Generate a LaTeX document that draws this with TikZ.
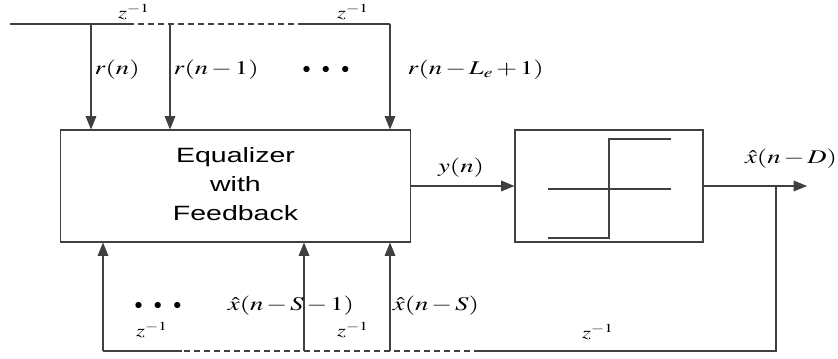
\documentclass[tikz,border=0pt]{standalone}
\usepackage{mathptmx}
\usepackage[no-math]{fontspec}
\setmainfont{Liberation Sans}
\usepackage{tikz}
\usetikzlibrary{arrows.meta}

% the drawing is wider than it is tall
\newcommand{\hstretch}[1]{\scalebox{1.38}[1]{#1}}
\newcommand{\tdot}{{\fontsize{12}{12}\selectfont$\bullet$}}
\newcommand{\tdots}{\tdot\hspace{8.5pt}\tdot\hspace{8.5pt}\tdot}
\medmuskip=2mu

\begin{document}
\begin{tikzpicture}[x=0.75pt, y=0.75pt,
        line/.style={draw=black!75, line width=0.8pt},
        arrow/.style={line, -{Triangle[length=10pt, width=8pt]}},
        delayline/.style={line, dash pattern=on 4.5pt off 3pt},
        box/.style={rectangle, draw=black!75, line width=0.8pt, inner sep=0pt},
        lab/.style={inner sep=1pt, font=\fontsize{14.5}{17}\selectfont},
        zlab/.style={inner sep=1pt, font=\fontsize{12.5}{15}\selectfont}
    ]
    \useasboundingbox (0,0) rectangle (838,358);

    % Equalizer and decision device
    \node[box, minimum width=263pt, minimum height=84pt,
          font=\fontsize{15.5}{21.75}\selectfont] (eq) at (235.5,172)
        {\hstretch{\begin{tabular}{@{}c@{}}Equalizer\\with\\Feedback\end{tabular}}};
    \node[box, minimum width=141pt, minimum height=84pt] (dec) at (609,172) {};
    \draw[line] (548,169) -- (671,169);
    \draw[line] (548,120) -- (609,120) -- (609,219) -- (671,219);

    % Input delay line
    \coordinate (in) at (10,334);
    \coordinate (t1) at (91,334);
    \coordinate (d1) at (128,334);
    \coordinate (t2) at (170,334);
    \coordinate (d2) at (303,334);
    \coordinate (t3) at (390,334);
    \draw[line] (in) -- (d1);
    \draw[delayline] (d1) -- (d2);
    \draw[line] (d2) -- (t3);
    \draw[arrow] (t1) -- (t1 |- eq.north);
    \draw[arrow] (t2) -- (t2 |- eq.north);
    \draw[arrow] (t3) -- (t3 |- eq.north);

    \node[zlab] (z1) at (134,346) {\hstretch{$z^{-1}$}};
    \node[zlab] (z2) at (353,346) {\hstretch{$z^{-1}$}};
    \node[lab, anchor=west] (rn) at (93,288) {\hstretch{$r(n)$}};
    \node[lab, anchor=west] (rn1) at (172,288) {\hstretch{$r(n-1)$}};
    \node[lab] (dtop) at (326,288) {\tdots};
    \node[lab, anchor=west] (rnl) at (406,288) {\hstretch{$r(n-L_e+1)$}};

    % Forward path and output
    \coordinate (out) at (807,172);
    \coordinate (fb) at (776,172);
    \draw[arrow] (eq.east) -- (dec.west);
    \draw[arrow] (dec.east) -- (out);
    \node[lab] (yn) at (461,190) {\hstretch{$y(n)$}};
    \node[lab] (xd) at (791,199) {\hstretch{$\hat{x}(n-D)$}};

    % Feedback delay line
    \coordinate (fc) at (776,7);
    \coordinate (e2) at (480,7);
    \coordinate (b3) at (390,7);
    \coordinate (b2) at (304,7);
    \coordinate (e1) at (182,7);
    \coordinate (b1) at (103,7);
    \draw[line] (fb) -- (fc) -- (e2);
    \draw[delayline] (e2) -- (e1);
    \draw[line] (e1) -- (b1);
    \draw[arrow] (b1) -- (b1 |- eq.south);
    \draw[arrow] (b2) -- (b2 |- eq.south);
    \draw[arrow] (b3) -- (b3 |- eq.south);

    \node[lab] (dbot) at (158,52) {\tdots};
    \node[lab] (xs1) at (291,52) {\hstretch{$\hat{x}(n-S-1)$}};
    \node[lab] (xs) at (436,52) {\hstretch{$\hat{x}(n-S)$}};
    \node[zlab] (z3) at (152,28) {\hstretch{$z^{-1}$}};
    \node[zlab] (z4) at (353,28) {\hstretch{$z^{-1}$}};
    \node[zlab] (z5) at (598,26) {\hstretch{$z^{-1}$}};

\end{tikzpicture}
\end{document}
